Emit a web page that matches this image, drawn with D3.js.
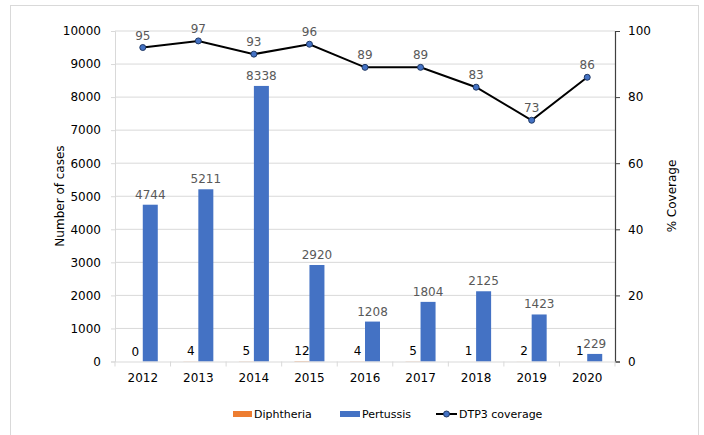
<!DOCTYPE html>
<html lang="en">
<head>
    <meta charset="UTF-8">
    <title>Diphtheria and Pertussis</title>
    <script src="https://d3js.org/d3.v7.min.js"></script>
</head>
<style>
    html,body{
        padding:0px;
        margin:0px;
        background:#fff;
    }
    text{
        font-family:"DejaVu Sans",sans-serif;
    }
</style>
<body>
<svg id="chart" width="704" height="435"></svg>
<script>
    // data
    const years = ["2012","2013","2014","2015","2016","2017","2018","2019","2020"];
    const diphtheria = [0,4,5,12,4,5,1,2,1];
    const pertussis = [4744,5211,8338,2920,1208,1804,2125,1423,229];
    const coverage = [95,97,93,96,89,89,83,73,86];
    const leftTicks = [0,1000,2000,3000,4000,5000,6000,7000,8000,9000,10000];
    const rightTicks = [0,20,40,60,80,100];

    const svg = d3.select("#chart");
    const pL = 115, pR = 615, pT = 31, pB = 361.5;

    // outer frame
    svg.append("rect")
        .attr("x", 10.5).attr("y", 5.5)
        .attr("width", 688).attr("height", 440)
        .attr("fill", "none").attr("stroke", "#d9d9d9");

    const x0 = d3.scaleBand().domain(years).range([pL, pR]);
    const bw = x0.bandwidth();
    const x1 = d3.scaleBand().domain(["d","p"]).range([bw*0.23, bw*0.77]);
    const yL = d3.scaleLinear().domain([0,10000]).range([pB, pT]);
    const yR = d3.scaleLinear().domain([0,100]).range([pB, pT]);

    // gridlines
    svg.append("g").selectAll("line").data(leftTicks.slice(1)).join("line")
        .attr("x1", pL).attr("x2", pR)
        .attr("y1", d => yL(d)).attr("y2", d => yL(d))
        .attr("stroke", "#d9d9d9");

    // left axis
    const gl = svg.append("g").attr("transform", `translate(${pL},0)`)
        .call(d3.axisLeft(yL).tickValues(leftTicks).tickFormat(d3.format("d")).tickSize(4).tickPadding(10));
    gl.select(".domain").attr("stroke", "#d9d9d9");
    gl.selectAll(".tick line").attr("stroke", "#d9d9d9");
    gl.selectAll(".tick text").attr("font-size", 12).attr("fill", "#000").attr("font-family", "DejaVu Sans");

    // right axis
    const gr = svg.append("g").attr("transform", `translate(${pR},0)`)
        .call(d3.axisRight(yR).tickValues(rightTicks).tickSize(5).tickPadding(8));
    gr.select(".domain").attr("stroke", "#404040").attr("stroke-width", 1.2);
    gr.selectAll(".tick line").attr("stroke", "#404040");
    gr.selectAll(".tick text").attr("font-size", 12).attr("fill", "#000").attr("font-family", "DejaVu Sans");

    // bars
    const rows = years.map((y,i) => ({year:y, d:diphtheria[i], p:pertussis[i], c:coverage[i]}));
    const grp = svg.append("g").selectAll("g").data(rows).join("g")
        .attr("transform", d => `translate(${x0(d.year)},0)`);
    grp.append("rect")
        .attr("x", x1("d")).attr("width", x1.bandwidth())
        .attr("y", d => yL(d.d)).attr("height", d => pB - yL(d.d))
        .attr("fill", "#ED7D31");
    grp.append("rect")
        .attr("x", x1("p")).attr("width", x1.bandwidth())
        .attr("y", d => yL(d.p)).attr("height", d => pB - yL(d.p))
        .attr("fill", "#4472C4");
    grp.append("text")
        .attr("x", x1("d") + x1.bandwidth()/2)
        .attr("y", d => yL(d.d) - 6)
        .attr("text-anchor", "middle").attr("font-size", 12).attr("fill", "#000")
        .text(d => d.d);
    grp.append("text")
        .attr("x", x1("p") + x1.bandwidth()/2)
        .attr("y", d => yL(d.p) - 6)
        .attr("text-anchor", "middle").attr("font-size", 12).attr("fill", "#595959")
        .text(d => d.p);

    // x axis
    const gx = svg.append("g").attr("transform", `translate(0,${pB})`)
        .call(d3.axisBottom(x0).tickSize(0).tickPadding(12));
    gx.select(".domain").attr("stroke", "#d9d9d9");
    gx.selectAll(".tick text").attr("font-size", 12).attr("fill", "#000").attr("font-family", "DejaVu Sans");
    svg.append("g").selectAll("line").data(years.concat(["end"])).join("line")
        .attr("x1", (d,i) => pL + i*bw).attr("x2", (d,i) => pL + i*bw)
        .attr("y1", pB).attr("y2", pB + 5)
        .attr("stroke", "#d9d9d9");

    // coverage line
    const cx = d => x0(d.year) + bw/2;
    svg.append("path").datum(rows)
        .attr("d", d3.line().x(cx).y(d => yR(d.c)))
        .attr("fill", "none").attr("stroke", "#000").attr("stroke-width", 2);
    svg.append("g").selectAll("circle").data(rows).join("circle")
        .attr("cx", cx).attr("cy", d => yR(d.c)).attr("r", 3)
        .attr("fill", "#4472C4").attr("stroke", "#1f3864").attr("stroke-width", 1);
    svg.append("g").selectAll("text").data(rows).join("text")
        .attr("x", cx).attr("y", d => yR(d.c) - 8)
        .attr("text-anchor", "middle").attr("font-size", 12).attr("fill", "#595959")
        .text(d => d.c);

    // axis titles
    svg.append("text").attr("transform", "translate(64,196) rotate(-90)")
        .attr("text-anchor", "middle").attr("font-size", 12).attr("fill", "#000")
        .text("Number of cases");
    svg.append("text").attr("transform", "translate(676,196) rotate(-90)")
        .attr("text-anchor", "middle").attr("font-size", 12).attr("fill", "#000")
        .text("% Coverage");

    // legend
    const lg = svg.append("g").attr("font-size", 11);
    lg.append("rect").attr("x", 233).attr("y", 411).attr("width", 19).attr("height", 6).attr("fill", "#ED7D31");
    lg.append("text").attr("x", 254).attr("y", 418).text("Diphtheria");
    lg.append("rect").attr("x", 340).attr("y", 411).attr("width", 20).attr("height", 6).attr("fill", "#4472C4");
    lg.append("text").attr("x", 362).attr("y", 418).text("Pertussis");
    lg.append("line").attr("x1", 436).attr("x2", 457).attr("y1", 414).attr("y2", 414)
        .attr("stroke", "#000").attr("stroke-width", 2);
    lg.append("circle").attr("cx", 446.5).attr("cy", 414).attr("r", 3)
        .attr("fill", "#4472C4").attr("stroke", "#1f3864");
    lg.append("text").attr("x", 459).attr("y", 418).text("DTP3 coverage");
</script>
</body>
</html>
